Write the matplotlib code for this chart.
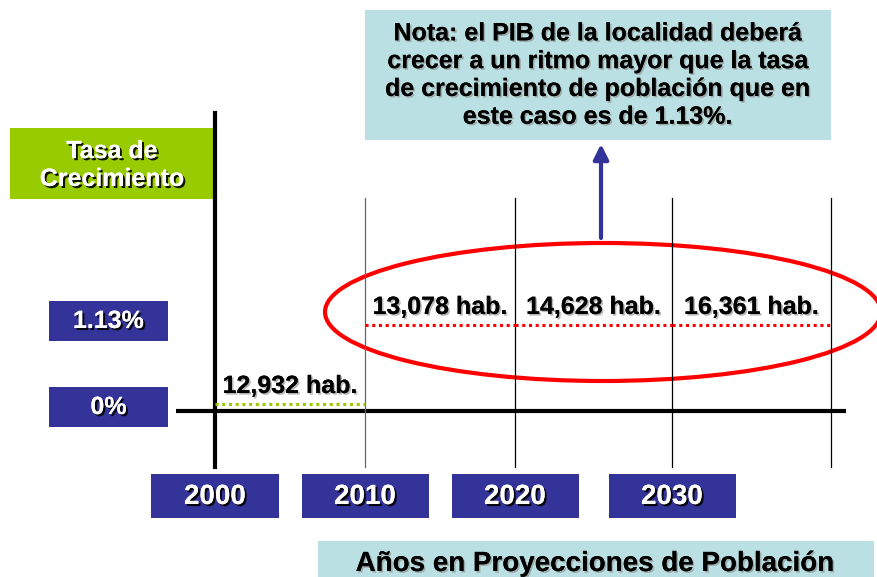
import numpy as np
import matplotlib
matplotlib.use("Agg")
import matplotlib.pyplot as plt
from matplotlib.patches import Rectangle, Ellipse
import matplotlib.patheffects as pe

# ---- data ----
years = [2000, 2010, 2020, 2030, 2040]
year_labels = ["2000", "2010", "2020", "2030"]
segment_rates = [0.0, 1.13, 1.13, 1.13]          # growth rate (%) per decade
population = [12932, 13078, 14628, 16361]        # inhabitants per decade
rate_ticks = [1.13, 0.0]
rate_labels = ["1.13%", "0%"]
note = ("Nota: el PIB de la localidad deberá\n"
        "crecer a un ritmo mayor que la tasa\n"
        "de crecimiento de población que en\n"
        "este caso es de 1.13%.")
y_title = "Tasa de\nCrecimiento"
x_title = "Años en Proyecciones de Población"

# ---- style ----
BLUE = "#333399"
GREEN = "#99CC00"
PALE = "#BBE0E3"
RED = "#FF0000"
plt.rcParams["font.family"] = ["Liberation Sans", "DejaVu Sans"]
plt.rcParams["font.weight"] = "bold"

W, H = 877, 577
fig = plt.figure(figsize=(W / 100, H / 100), dpi=100)

# canvas axes in pixel units for the decorative layout
ax = fig.add_axes([0, 0, 1, 1])
ax.set_xlim(0, W)
ax.set_ylim(H, 0)
ax.axis("off")

# decade boundaries on screen (schematic, not evenly spaced)
edge_px = np.array([215, 365, 515, 672, 831], dtype=float)
yr = np.array(years, dtype=float)
SLOPE = 15.0  # pixels per year outside the drawn range


def fwd(x):
    x = np.asarray(x, dtype=float)
    out = np.interp(x, yr, edge_px)
    out = np.where(x < yr[0], edge_px[0] + (x - yr[0]) * SLOPE, out)
    out = np.where(x > yr[-1], edge_px[-1] + (x - yr[-1]) * SLOPE, out)
    return out


def inv(p):
    p = np.asarray(p, dtype=float)
    out = np.interp(p, edge_px, yr)
    out = np.where(p < edge_px[0], yr[0] + (p - edge_px[0]) / SLOPE, out)
    out = np.where(p > edge_px[-1], yr[-1] + (p - edge_px[-1]) / SLOPE, out)
    return out


# data axes: x in years, y in growth rate (%)
top_px, bot_px = 113, 467
dax = fig.add_axes([edge_px[0] / W, (H - bot_px) / H,
                    (edge_px[-1] - edge_px[0]) / W, (bot_px - top_px) / H])
dax.set_xscale("function", functions=(fwd, inv))
dax.set_xlim(years[0], years[-1])
dax.set_ylim(-0.90, 4.16)
dax.patch.set_alpha(0)
dax.axis("off")


def to_px(x, y):
    return ax.transData.inverted().transform(dax.transData.transform((x, y)))


shadow_white = [pe.withSimplePatchShadow(offset=(1.5, -1.5), shadow_rgbFace="black", alpha=0.9),
                pe.Normal()]
shadow_black = [pe.withSimplePatchShadow(offset=(1.2, -1.2), shadow_rgbFace="#888888", alpha=0.6),
                pe.Normal()]

# main axes lines
dax.axvline(years[0], 0, 1, color="black", lw=3.0, zorder=3, clip_on=False)
grid_top = (bot_px - 198) / (bot_px - top_px)
for y in years[1:]:
    dax.axvline(y, 0, grid_top, color="#666666" if y == years[1] else "black",
                lw=0.9, zorder=2, clip_on=False)
ax.plot([176, 846], [411, 411], color="black", lw=3.0, zorder=3,
        solid_capstyle="butt")

# growth-rate segments and population labels
for i, (rate, pop) in enumerate(zip(segment_rates, population)):
    x0, x1 = years[i], years[i + 1]
    col = GREEN if rate == 0 else RED
    dax.plot([x0, x1], [rate, rate], color=col, lw=2.2,
             linestyle=(0, (1, 1.2)), zorder=4, dash_capstyle="butt")
    xm = float(inv((fwd(x0) + fwd(x1)) / 2))
    dax.annotate(f"{pop:,} hab.", xy=(xm, rate), xytext=(0, 13),
                 textcoords="offset points", ha="center", va="center",
                 fontsize=18, fontweight="bold", color="black",
                 path_effects=shadow_black, zorder=5)

# y title box
ax.add_patch(Rectangle((10, 128), 205, 71, facecolor=GREEN, edgecolor="none", zorder=1))
ax.text(112, 165, y_title, ha="center", va="center", fontsize=18,
        fontweight="bold", color="white", linespacing=1.2,
        path_effects=shadow_white, zorder=2)

# rate labels (boxes sit slightly apart from their lines)
for r, lab in zip(rate_ticks, rate_labels):
    _, cy = to_px(years[0], r)
    cy += 3 if r == 0 else -4
    ax.add_patch(Rectangle((49, cy - 20), 119, 40, facecolor=BLUE,
                           edgecolor="none", zorder=1))
    ax.text(108.5, cy, lab, ha="center", va="center", fontsize=18,
            fontweight="bold", color="white", path_effects=shadow_white, zorder=2)

# year labels
for y, lab in zip(years[:-1], year_labels):
    cx, _ = to_px(y, 0)
    ax.add_patch(Rectangle((cx - 63.5, 474), 127, 44, facecolor=BLUE,
                           edgecolor="none", zorder=1))
    ax.text(cx, 497, lab, ha="center", va="center", fontsize=20,
            fontweight="bold", color="white", path_effects=shadow_white, zorder=2)

# x title box
ax.add_patch(Rectangle((318, 541), 556, 40, facecolor=PALE, edgecolor="none", zorder=1))
ax.text(595, 564, x_title, ha="center", va="center", fontsize=20,
        fontweight="bold", color="black", path_effects=shadow_black, zorder=2)

# note box
ax.add_patch(Rectangle((365, 10), 466, 130, facecolor=PALE, edgecolor="none", zorder=1))
ax.text(598, 75, note, ha="center", va="center", fontsize=18,
        fontweight="bold", color="black", linespacing=1.2,
        path_effects=shadow_black, zorder=2)

# highlight ellipse around projected values
ax.add_patch(Ellipse((603, 312), 556, 138, facecolor="none", edgecolor=RED,
                     lw=3.0, zorder=6))

# arrow towards the note
ax.annotate("", xy=(601, 144), xytext=(601, 238),
            arrowprops=dict(arrowstyle="-|>,head_width=0.45,head_length=0.9",
                            lw=3.0, color=BLUE, shrinkA=0, shrinkB=0),
            zorder=6)

fig.savefig("out.png", dpi=100)
